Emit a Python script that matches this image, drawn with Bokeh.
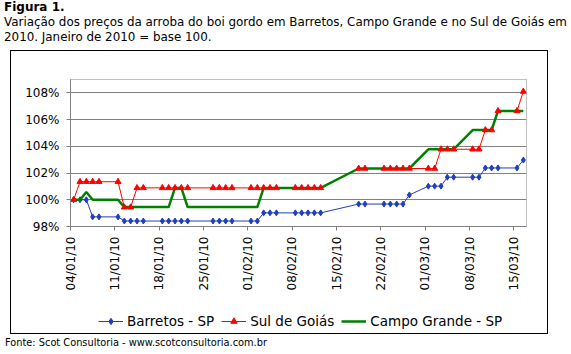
import math
import pandas as pd
from bokeh.plotting import figure
from bokeh.layouts import column
from bokeh.models import (Range1d, FixedTicker, DatetimeTickFormatter, PrintfTickFormatter,
                          Legend, LegendItem, Div, ColumnDataSource)
from bokeh.embed import file_html
from bokeh.resources import INLINE

# ---------------- data ----------------
dates = [
    "2010-01-04", "2010-01-05", "2010-01-06", "2010-01-07", "2010-01-08",
    "2010-01-11", "2010-01-12", "2010-01-13", "2010-01-14", "2010-01-15",
    "2010-01-18", "2010-01-19", "2010-01-20", "2010-01-21", "2010-01-22",
    "2010-01-26", "2010-01-27", "2010-01-28", "2010-01-29",
    "2010-02-01", "2010-02-02", "2010-02-03", "2010-02-04", "2010-02-05",
    "2010-02-08", "2010-02-09", "2010-02-10", "2010-02-11", "2010-02-12",
    "2010-02-18", "2010-02-19",
    "2010-02-22", "2010-02-23", "2010-02-24", "2010-02-25", "2010-02-26",
    "2010-03-01", "2010-03-02", "2010-03-03", "2010-03-04", "2010-03-05",
    "2010-03-08", "2010-03-09", "2010-03-10", "2010-03-11", "2010-03-12",
    "2010-03-15", "2010-03-16",
]

barretos = [
    100.0, 100.0, 100.0, 98.72, 98.72,
    98.72, 98.41, 98.41, 98.41, 98.41,
    98.41, 98.41, 98.41, 98.41, 98.41,
    98.41, 98.41, 98.41, 98.41,
    98.41, 98.41, 99.02, 99.02, 99.02,
    99.02, 99.02, 99.02, 99.02, 99.02,
    99.68, 99.68,
    99.68, 99.68, 99.68, 99.68, 100.36,
    101.02, 101.02, 101.02, 101.69, 101.69,
    101.69, 101.69, 102.38, 102.38, 102.38,
    102.38, 102.97,
]

sul_goias = [
    100.0, 101.35, 101.35, 101.35, 101.35,
    101.35, 99.44, 99.44, 100.89, 100.89,
    100.89, 100.89, 100.89, 100.89, 100.89,
    100.89, 100.89, 100.89, 100.89,
    100.89, 100.89, 100.89, 100.89, 100.89,
    100.89, 100.89, 100.89, 100.89, 100.89,
    102.34, 102.34,
    102.34, 102.34, 102.34, 102.34, 102.34,
    102.34, 102.34, 103.78, 103.78, 103.78,
    103.78, 103.78, 105.22, 105.22, 106.65,
    106.65, 108.1,
]

campo_grande = [
    100.0, 100.0, 100.58, 100.0, 100.0,
    100.0, 99.45, 99.45, 99.45, 99.45,
    99.45, 99.45, 100.89, 100.89, 99.45,
    99.45, 99.45, 99.45, 99.45,
    99.45, 99.45, 100.89, 100.89, 100.89,
    100.89, 100.89, 100.89, 100.89, 100.89,
    102.34, 102.34,
    102.34, 102.34, 102.34, 102.34, 102.34,
    103.78, 103.78, 103.78, 103.78, 103.78,
    105.22, 105.22, 105.22, 105.22, 106.65,
    106.65, 106.65,
]

tick_dates = ["2010-01-04", "2010-01-11", "2010-01-18", "2010-01-25", "2010-02-01",
              "2010-02-08", "2010-02-15", "2010-02-22", "2010-03-01", "2010-03-08",
              "2010-03-15"]
y_ticks = [98, 100, 102, 104, 106, 108]

series_names = ["Barretos - SP", "Sul de Goiás", "Campo Grande - SP"]

title_1 = "Figura 1."
title_2 = "Variação dos preços da arroba do boi gordo em Barretos, Campo Grande e no Sul de Goiás em"
title_3 = "2010. Janeiro de 2010 = base 100."
source = "Fonte: Scot Consultoria - www.scotconsultoria.com.br"

# ---------------- layout ----------------
FONT = "DejaVu Sans"
BOX_W = 536
CHART_H, LEG_H = 259, 23
BLUE, RED, GREEN = "#1f3fbf", "#ff0000", "#008000"

src = ColumnDataSource(dict(
    x=pd.to_datetime(dates) + pd.Timedelta(hours=12),   # mid-day, between tick marks
    barretos=barretos, sul=sul_goias, campo=campo_grande))
x_start = pd.Timestamp(dates[0])
x_end = pd.Timestamp(dates[-1]) + pd.Timedelta(days=1)


def draw_series(fig):
    rb_l = fig.line("x", "barretos", source=src, line_color=BLUE, line_width=1)
    rb_p = fig.scatter("x", "barretos", source=src, marker="diamond", size=6,
                       fill_color=BLUE, line_color=BLUE)
    rr_l = fig.line("x", "sul", source=src, line_color=RED, line_width=1)
    rg_l = fig.line("x", "campo", source=src, line_color=GREEN, line_width=2.5)
    rr_p = fig.scatter("x", "sul", source=src, marker="triangle", size=6,
                       fill_color=RED, line_color=RED)
    return rb_l, rb_p, rr_l, rr_p, rg_l


p = figure(width=BOX_W, height=CHART_H, output_backend="svg", toolbar_location=None,
           x_axis_type="datetime",
           x_range=Range1d(x_start, x_end), y_range=Range1d(98, 109),
           min_border_left=59, min_border_right=21,
           min_border_top=28, min_border_bottom=84,
           background_fill_color="white", border_fill_color="white")

p.outline_line_color = "#808080"
p.outline_line_dash = "1 1"

tick_ms = [pd.Timestamp(d).value // 10**6 for d in tick_dates]
p.xaxis.ticker = FixedTicker(ticks=tick_ms)
fmt = "%d/%m/%y"
p.xaxis.formatter = DatetimeTickFormatter(days=fmt, months=fmt, years=fmt, hours=fmt,
                                          hourmin=fmt, minutes=fmt, minsec=fmt,
                                          seconds=fmt, milliseconds=fmt, microseconds=fmt)
p.xaxis.major_label_orientation = math.pi / 2
p.yaxis.ticker = FixedTicker(ticks=y_ticks)
p.yaxis.formatter = PrintfTickFormatter(format="%d%%")

for ax in (p.xaxis, p.yaxis):
    ax.axis_line_color = "#808080"
    ax.major_tick_line_color = "#808080"
    ax.major_tick_out = 4
    ax.major_tick_in = 0
    ax.minor_tick_line_color = None
    ax.major_label_text_font = FONT
    ax.major_label_text_font_size = "12px"
    ax.major_label_text_color = "black"
p.xaxis.major_label_standoff = 6
p.yaxis.major_label_standoff = 7

p.xgrid.grid_line_color = None
p.ygrid.grid_line_color = "#808080"
p.ygrid.ticker = FixedTicker(ticks=y_ticks)

draw_series(p)

# ---- legend strip (inside the same black box, under the chart) ----
# same series, drawn off-range (invisible) so the legend has real glyphs to show
lf = figure(width=BOX_W, height=LEG_H, output_backend="svg", toolbar_location=None,
            x_range=Range1d(0, 1), y_range=Range1d(0, 1), min_border=0,
            x_axis_location=None, y_axis_location=None,
            background_fill_color="white", border_fill_color="white")
lf.grid.visible = False
lf.outline_line_color = None
lb_l, lb_p, lr_l, lr_p, lg_l = draw_series(lf)

legend = Legend(items=[
    LegendItem(label=series_names[0], renderers=[lb_l, lb_p]),
    LegendItem(label=series_names[1], renderers=[lr_l, lr_p]),
    LegendItem(label=series_names[2], renderers=[lg_l]),
], location=(28, 4), orientation="horizontal",
    glyph_width=25, glyph_height=16, label_height=16, label_standoff=4, spacing=7,
    padding=0, margin=0, border_line_color=None, background_fill_alpha=0,
    label_text_font=FONT, label_text_font_size="13.5px", label_text_color="black")
lf.add_layout(legend, "center")

box = column(p, lf, spacing=0, margin=(0, 0, 0, 11),
             styles={"outline": "1px solid black"})

title_div = Div(
    text=(f'<div style="font-family:\'DejaVu Sans\';font-size:11.9px;line-height:14.8px;'
          f'color:black;padding-left:4px;white-space:nowrap;">'
          f'<div style="font-weight:bold;font-size:12px;">{title_1}</div>'
          f'<div>{title_2}</div><div>{title_3}</div></div>'),
    width=571, height=51, margin=0)

source_div = Div(
    text=(f'<div style="font-family:\'DejaVu Sans\';font-size:9.8px;line-height:14px;'
          f'color:black;padding-left:5px;padding-top:3px;white-space:nowrap;">{source}</div>'),
    width=571, height=21, margin=0)

layout = column(title_div, box, source_div, spacing=0, margin=0)

open("out.html", "w").write(file_html(layout, INLINE))
